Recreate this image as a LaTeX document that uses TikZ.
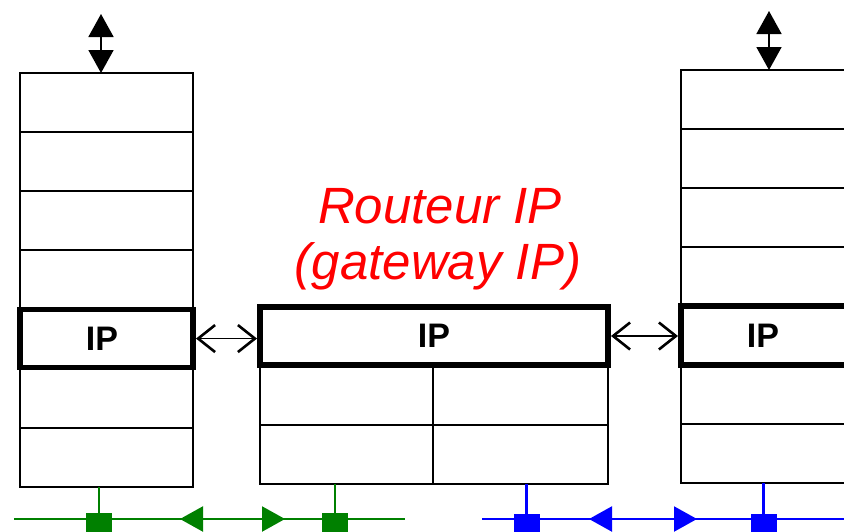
\documentclass[tikz,border=0pt]{standalone}
\usepackage{fontspec}
\setmainfont{Liberation Sans}
\usetikzlibrary{arrows.meta}
\definecolor{netgreen}{RGB}{0,128,0}
\definecolor{netblue}{RGB}{0,0,255}
\definecolor{titlered}{RGB}{255,0,0}
\begin{document}
\begin{tikzpicture}[x=1pt,y=-1pt,
  layer/.style={draw, line width=2pt, minimum height=59pt, inner sep=0pt, outer sep=0pt, anchor=north west},
  iplayer/.style={layer, line width=5.5pt, font=\fontsize{34}{36}\selectfont\bfseries},
  titletext/.style={text=titlered, font=\fontsize{51}{58}\selectfont\itshape, anchor=base, inner sep=0pt},
  updown/.style={line width=1.8pt, {Triangle[length=23pt,width=25pt]}-{Triangle[length=23pt,width=25pt]}},
  peer/.style={line width=1.8pt, {Straight Barb[length=17pt,width=27pt,line width=2.6pt]}-{Straight Barb[length=17pt,width=27pt,line width=2.6pt]}, shorten <=3pt, shorten >=3pt},
  wire/.style={line width=2.2pt},
  wirearrow/.style={line width=2.2pt, {Triangle[length=23pt,width=25pt]}-{Triangle[length=23pt,width=25pt]}},
  attach/.style={fill, minimum size=26pt, inner sep=0pt, outer sep=0pt}
]
\useasboundingbox (0,0) rectangle (844,531);
\clip (0,0) rectangle (844,531);

% ---- left host stack
\foreach \i in {0,1,2,3,5,6}{
  \node[layer, minimum width=173pt] (L\i) at (20,{73+59.14*\i}) {};
}
\node[iplayer, minimum width=173pt, minimum height=58pt] (L4) at (20,{73+59.14*4}) {\hspace*{-9pt}IP};

% ---- right host stack
\foreach \i in {0,1,2,3,5,6}{
  \node[layer, minimum width=173pt] (S\i) at (681,{70+59*\i}) {};
}
\node[iplayer, minimum width=173pt, minimum height=59pt] (S4) at (681,{70+59*4}) {\hspace*{-9pt}IP};

% ---- router
\node[layer, minimum width=173pt, minimum height=59.5pt] (RA1) at (260,365) {};
\node[layer, minimum width=175pt, minimum height=59.5pt] (RB1) at (433,365) {};
\node[layer, minimum width=173pt, minimum height=59.5pt] (RA2) at (260,424.5) {};
\node[layer, minimum width=175pt, minimum height=59.5pt] (RB2) at (433,424.5) {};
\node[iplayer, minimum width=348pt, minimum height=58pt] (RIP) at (260,307) {IP};

\node[titletext] (t1) at (440,223) {Routeur IP};
\node[titletext] (t2) at (438,279) {(gateway IP)};

% ---- vertical service arrows on top
\coordinate (ltop) at (101,14);
\coordinate (rtop) at (769,11);
\draw[updown] (ltop) -- (ltop |- L0.north);
\draw[updown] (rtop) -- (rtop |- S0.north);

% ---- peer arrows between IP layers
\draw[peer] (L4.east) -- (L4.east -| RIP.west);
\draw[peer] (RIP.east) -- (RIP.east -| S4.west);

% ---- green network
\coordinate (gL) at (14,519);
\coordinate (gR) at (405,519);
\node[attach, fill=netgreen] (g1) at (99,526) {};
\node[attach, fill=netgreen] (g2) at (335,526) {};
\draw[wire, netgreen] (gL) -- (gR);
\draw[wire, netgreen] (L6.south -| g1) -- (g1 |- gL);
\draw[wire, netgreen] (RA2.south -| g2) -- (g2 |- gL);
\coordinate (ga) at (180,519);
\coordinate (gb) at (285,519);
\draw[wirearrow, netgreen] (ga) -- (gb);

% ---- blue network
\coordinate (bL) at (482,519);
\coordinate (bR) at (860,519);
\node[attach, fill=netblue] (b1) at (526.5,526.5) {};
\node[attach, fill=netblue] (b2) at (763.5,526.5) {};
\draw[wire, netblue] (bL) -- (bR);
\draw[wire, netblue] (RB2.south -| b1) -- (b1 |- bL);
\draw[wire, netblue] (S6.south -| b2) -- (b2 |- bL);
\coordinate (ba) at (589,519);
\coordinate (bb) at (697,519);
\draw[wirearrow, netblue] (ba) -- (bb);
\end{tikzpicture}
\end{document}
